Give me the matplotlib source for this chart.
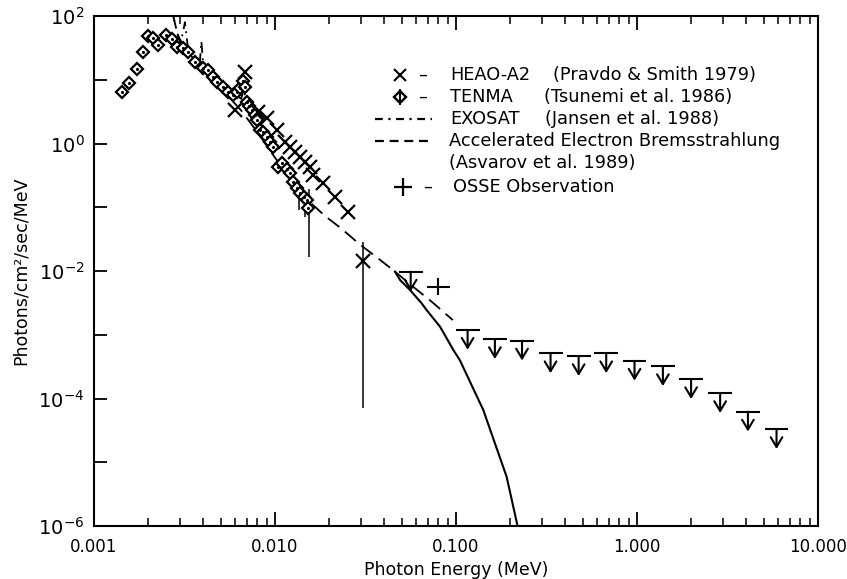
import matplotlib
matplotlib.use('Agg')
import matplotlib.pyplot as plt
import numpy as np
from matplotlib.ticker import FixedLocator, NullLocator, FuncFormatter
from matplotlib.lines import Line2D

# ---- data ----
# TENMA (diamonds)
tenma_e = [0.00142, 0.00157, 0.00172, 0.00187, 0.00198, 0.00213, 0.00227, 0.00249,
           0.00271, 0.00287, 0.00311, 0.00332, 0.00361, 0.0040, 0.00427, 0.00454,
           0.0048, 0.00516, 0.0055, 0.00586, 0.0062, 0.00641, 0.00666, 0.0068,
           0.0070, 0.0072, 0.00746, 0.0078, 0.00796, 0.00827, 0.0086, 0.00904,
           0.0094, 0.00975, 0.0104, 0.0110, 0.0116, 0.0121, 0.0126, 0.0132,
           0.0137, 0.0144, 0.0150, 0.0152]
tenma_f = [6.5, 8.8, 15, 27.6, 49, 44.6, 35, 51,
           43.6, 33, 31, 27.6, 19, 15.3, 14.2, 11.2,
           9.3, 7.7, 6.4, 5.8, 6.5, 7.4, 9.5, 7.8,
           4.5, 3.9, 3.35, 2.8, 2.3, 1.63, 1.5, 1.26,
           1.05, 0.88, 0.43, 0.5, 0.40, 0.344, 0.249, 0.20,
           0.167, 0.145, 0.13, 0.097]

# HEAO-A2 (crosses)
heao_e = [0.00601, 0.00682, 0.00809, 0.0090, 0.0102, 0.01135, 0.0121, 0.0129,
          0.0137, 0.01465, 0.0156, 0.0163, 0.0185, 0.0215, 0.0254, 0.0305]
heao_f = [3.35, 13.2, 3.16, 2.48, 1.63, 1.07, 0.89, 0.74,
          0.62, 0.52, 0.43, 0.32, 0.237, 0.147, 0.085, 0.0145]

# vertical error bars visible on a few points
err_e = [0.0305, 0.0155, 0.0136, 0.0146]
err_lo = [7.0e-5, 0.0164, 0.09, 0.07]
err_hi = [0.029, 0.19, 0.19, 0.16]

# EXOSAT (dash-dot)
exo_e = [0.00270, 0.00285, 0.00300, 0.00310, 0.00318, 0.00330, 0.00360, 0.00385,
         0.00392, 0.0040, 0.0045, 0.0055, 0.0065, 0.0067, 0.0070, 0.0080, 0.0090]
exo_f = [120, 62, 38, 55, 80, 32, 24, 20,
         40, 19, 13, 7.5, 5, 7, 4.2, 2.4, 1.5]

# Accelerated electron bremsstrahlung (dashed)
brem_e = [0.00272, 0.0029, 0.0032, 0.004, 0.005, 0.0065, 0.008, 0.010, 0.0125,
          0.0156, 0.019, 0.0229, 0.0295, 0.038, 0.046, 0.0557, 0.0734, 0.096]
brem_f = [110, 50, 30, 14.5, 7.5, 3.3, 1.5, 0.6, 0.25,
          0.12, 0.072, 0.048, 0.026, 0.015, 0.0098, 0.0062, 0.0033, 0.0017]

# solid model curve
model_e = [0.046, 0.0491, 0.0557, 0.0646, 0.0688, 0.0816, 0.0967, 0.105,
           0.1415, 0.1905, 0.225]
model_f = [0.0098, 0.00722, 0.00504, 0.00311, 0.00244, 0.00134, 5.77e-4, 4.0e-4,
           6.6e-5, 5.9e-6, 7e-7]

# OSSE upper limits
ul_e = [0.0562, 0.1159, 0.164, 0.2316, 0.333, 0.476, 0.676, 0.969,
        1.39, 1.99, 2.88, 4.1, 5.9]
ul_f = [0.00975, 0.00119, 8.5e-4, 8.07e-4, 5.1e-4, 4.6e-4, 5.1e-4, 3.9e-4,
        3.2e-4, 2.0e-4, 1.21e-4, 6.2e-5, 3.3e-5]

# OSSE detection
osse_e = [0.0798]
osse_f = [0.00568]
osse_elo = [0.0688]
osse_ehi = [0.0925]
osse_flo = [0.0042]
osse_fhi = [0.0078]

# ---- figure ----
W, H = 847, 579
fig = plt.figure(figsize=(W / 100, H / 100), dpi=100)
ax = fig.add_axes([94 / W, 1 - 526 / H, 724 / W, 510 / H])

lw = 1.3
ax.plot(brem_e, brem_f, color='k', lw=lw, dashes=(8, 4))
ax.plot(exo_e, exo_f, color='k', lw=lw, dashes=(6, 3, 1, 3))
ax.plot(model_e, model_f, color='k', lw=1.5)

ax.vlines(err_e, err_lo, err_hi, color='k', lw=1.1)

ax.plot(tenma_e, tenma_f, ls='none', marker='D', ms=6.3, mfc='white', mec='k', mew=1.6)
ax.plot(tenma_e, tenma_f, ls='none', marker='.', ms=2.5, color='k')
ax.plot(heao_e, heao_f, ls='none', marker='x', ms=10, mec='k', mew=1.6)

# OSSE upper limits: bar + down arrow
hw = 0.066      # half bar width in decades
alen = 0.31     # arrow length in decades
ul_e = np.array(ul_e)
ul_f = np.array(ul_f)
ax.hlines(ul_f, ul_e * 10 ** -hw, ul_e * 10 ** hw, color='k', lw=1.5)
for e, f in zip(ul_e, ul_f):
    ax.annotate('', xy=(e, f * 10 ** -alen), xytext=(e, f),
                arrowprops=dict(arrowstyle='->,head_length=0.5,head_width=0.3',
                                lw=1.5, color='k', shrinkA=0, shrinkB=0,
                                mutation_scale=14))

# OSSE detection
ax.hlines(osse_f, osse_elo, osse_ehi, color='k', lw=1.5)
ax.vlines(osse_e, osse_flo, osse_fhi, color='k', lw=1.5)

# axes
ax.set_xscale('log')
ax.set_yscale('log')
ax.set_xlim(1e-3, 10)
ax.set_ylim(1e-6, 1e2)

ax.xaxis.set_major_locator(FixedLocator([1e-3, 1e-2, 1e-1, 1, 10]))
ax.xaxis.set_major_formatter(FuncFormatter(lambda v, p: f'{v:.3f}'))
ax.tick_params(axis='x', which='major', direction='in', top=True, bottom=True,
               length=10, width=1.3, pad=9, labelsize=12)
ax.tick_params(axis='x', which='minor', direction='in', top=True, bottom=True,
               length=6, width=1.1)

ydec = [10.0 ** k for k in range(-6, 3)]
ax.yaxis.set_major_locator(FixedLocator(ydec))
ax.yaxis.set_minor_locator(NullLocator())


def yfmt(v, p):
    k = int(round(np.log10(v)))
    if k % 2:
        return ''
    return r'$\mathregular{10^{%d}}$' % k


ax.yaxis.set_major_formatter(FuncFormatter(yfmt))
ax.tick_params(axis='y', which='major', direction='in', left=True, right=False,
               length=9, width=1.3, pad=7, labelsize=14)

for s in ax.spines.values():
    s.set_linewidth(1.5)

ax.set_xlabel('Photon Energy (MeV)', fontsize=12.5, labelpad=3)
ax.set_ylabel('Photons/cm²/sec/MeV', fontsize=12.5, labelpad=6)

# legend drawn by hand (figure pixel coords)
def fx(px):
    return px / W


def fy(py):
    return 1 - py / H


fs = 12.8
rows = [75, 96.7, 119, 140.7, 163.3, 186.7]
ax.plot([fx(400)], [fy(rows[0])], transform=fig.transFigure, clip_on=False,
        marker='x', ms=9, mec='k', mew=1.5, ls='none')
ax.plot([fx(400)], [fy(rows[1])], transform=fig.transFigure, clip_on=False,
        marker='D', ms=6, mfc='white', mec='k', mew=1.7, ls='none')
ax.plot([fx(400), fx(400)], [fy(rows[1] - 7), fy(rows[1] + 7)], transform=fig.transFigure,
        clip_on=False, color='k', lw=1.4)
fig.add_artist(Line2D([fx(375), fx(432)], [fy(rows[2])] * 2, color='k', lw=1.6,
                      dashes=(3.5, 2.5, 1, 2.5), transform=fig.transFigure))
fig.add_artist(Line2D([fx(375), fx(432)], [fy(rows[3])] * 2, color='k', lw=1.6,
                      dashes=(4, 2.6), transform=fig.transFigure))
ax.plot([fx(403)], [fy(rows[5])], transform=fig.transFigure, clip_on=False,
        marker='+', ms=13, mec='k', mew=1.6, ls='none')

fig.text(fx(423), fy(rows[0]), '–', fontsize=fs, ha='center', va='center')
fig.text(fx(423), fy(rows[1]), '–', fontsize=fs, ha='center', va='center')
fig.text(fx(428), fy(rows[5]), '–', fontsize=fs, ha='center', va='center')

fig.text(fx(450), fy(rows[0]), 'HEAO-A2', fontsize=fs, va='center')
fig.text(fx(553), fy(rows[0]), '(Pravdo & Smith 1979)', fontsize=fs, va='center')
fig.text(fx(450), fy(rows[1]), 'TENMA', fontsize=fs, va='center')
fig.text(fx(544), fy(rows[1]), '(Tsunemi et al. 1986)', fontsize=fs, va='center')
fig.text(fx(450), fy(rows[2]), 'EXOSAT', fontsize=fs, va='center')
fig.text(fx(545), fy(rows[2]), '(Jansen et al. 1988)', fontsize=fs, va='center')
fig.text(fx(449), fy(rows[3]), 'Accelerated Electron Bremsstrahlung', fontsize=fs, va='center')
fig.text(fx(449), fy(rows[4]), '(Asvarov et al. 1989)', fontsize=fs, va='center')
fig.text(fx(453), fy(rows[5]), 'OSSE Observation', fontsize=fs, va='center')

fig.savefig('out.png', dpi=100)
